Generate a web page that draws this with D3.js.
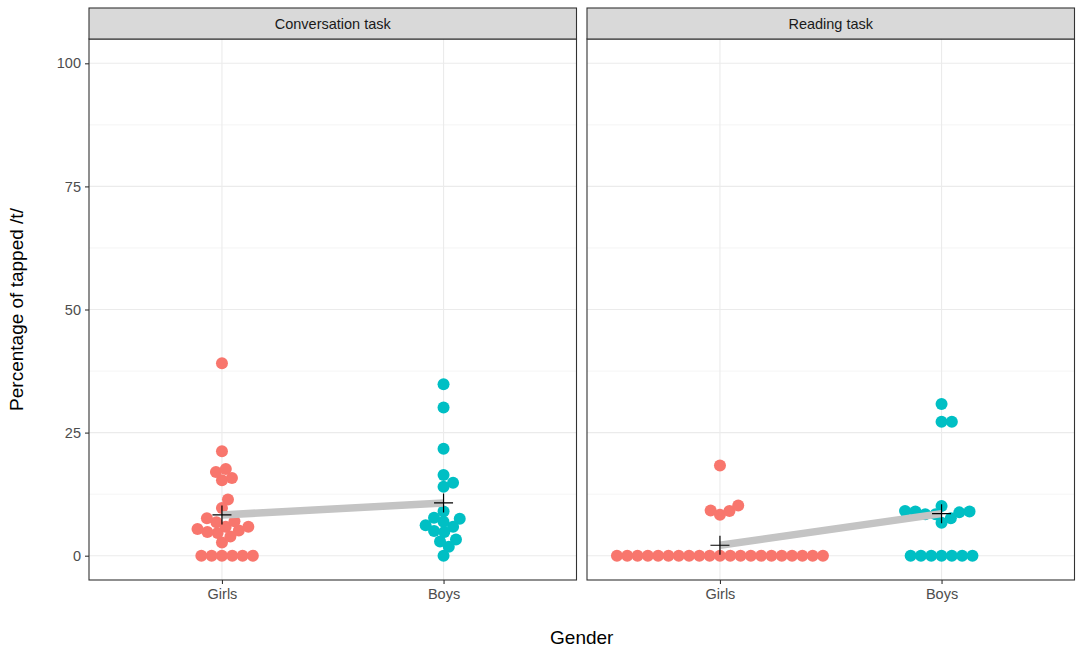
<!DOCTYPE html>
<html>
<head>
<meta charset="utf-8">
<script src="https://cdn.jsdelivr.net/npm/d3@7"></script>
<style>
  body { margin: 0; background: #fff; }
  text { font-family: "Liberation Sans", Arial, sans-serif; }
</style>
</head>
<body>
<div id="chart"></div>
<script>
// data
var tasks   = ["Conversation task", "Reading task"];
var genders = ["Girls", "Boys"];
var yTicks  = [0, 25, 50, 75, 100];
var yMinor  = [12.5, 37.5, 62.5, 87.5];

var convGirls = [39.1, 21.2, 17.6, 17.0, 15.8, 15.3, 11.4, 9.7, 7.6, 7.0, 6.8, 5.9, 5.9, 5.4, 5.1, 4.8, 4.6, 3.9, 2.7, 0, 0, 0, 0, 0, 0];
var convBoys  = [34.8, 30.1, 21.7, 16.4, 14.8, 14.0, 9.0, 7.5, 7.7, 6.9, 5.9, 6.2, 4.8, 5.0, 2.9, 3.3, 1.8, 0];
var readGirls = [18.3, 10.2, 9.2, 9.1, 8.3, 0, 0, 0, 0, 0, 0, 0, 0, 0, 0, 0, 0, 0, 0, 0, 0, 0, 0, 0, 0, 0];
var readBoys  = [30.8, 27.2, 27.2, 10.1, 9.1, 9.0, 9.0, 8.8, 8.4, 8.4, 7.6, 6.7, 0, 0, 0, 0, 0, 0, 0];

var series = [[convGirls, convBoys], [readGirls, readBoys]];
var colors = ["#F8766D", "#00BFC4"];

// layout
var width = 1076, height = 650;
var left = 89, panelW = 487.5, gap = 10.5;
var stripTop = 8, panelTop = 39, panelBot = 580;
var pad = 24.3;

var svg = d3.select("#chart").append("svg")
  .attr("width", width)
  .attr("height", height);

var y = d3.scaleLinear().domain([0, 100]).range([panelBot - pad, panelTop + pad]);
var x = d3.scalePoint().domain(genders).range([0, panelW]).padding(0.6);

var r = 6, spacing = 10.3;

// beeswarm offsets, points placed in ascending order
function swarm(vals) {
  var pts = vals.map(function(v) { return {v: v, py: y(v), dx: 0}; })
    .sort(function(a, b) { return a.v - b.v; });
  var placed = [];
  pts.forEach(function(p) {
    var cands = [0];
    placed.forEach(function(q) {
      var dy = Math.abs(p.py - q.py);
      if (dy < spacing) {
        var d = Math.sqrt(spacing * spacing - dy * dy);
        cands.push(q.dx + d, q.dx - d);
      }
    });
    cands.sort(function(a, b) {
      var da = Math.abs(a) - Math.abs(b);
      if (Math.abs(da) > 1e-9) return da;
      return b - a;
    });
    for (var i = 0; i < cands.length; i++) {
      var c = cands[i];
      var ok = placed.every(function(q) {
        var ddx = c - q.dx, ddy = p.py - q.py;
        return ddx * ddx + ddy * ddy >= spacing * spacing - 1e-6;
      });
      if (ok) { p.dx = c; break; }
    }
    placed.push(p);
  });
  return pts;
}

tasks.forEach(function(task, ti) {
  var px = left + ti * (panelW + gap);
  var g = svg.append("g").attr("transform", "translate(" + px + ",0)");

  // grid
  g.selectAll(".minor").data(yMinor).enter().append("line")
    .attr("x1", 0).attr("x2", panelW)
    .attr("y1", function(d) { return y(d); }).attr("y2", function(d) { return y(d); })
    .attr("stroke", "#ebebeb").attr("stroke-width", 0.55);
  g.selectAll(".major").data(yTicks).enter().append("line")
    .attr("x1", 0).attr("x2", panelW)
    .attr("y1", function(d) { return y(d); }).attr("y2", function(d) { return y(d); })
    .attr("stroke", "#ebebeb").attr("stroke-width", 1.1);
  g.selectAll(".vgrid").data(genders).enter().append("line")
    .attr("x1", function(d) { return x(d); }).attr("x2", function(d) { return x(d); })
    .attr("y1", panelTop).attr("y2", panelBot)
    .attr("stroke", "#ebebeb").attr("stroke-width", 1.1);

  // points
  genders.forEach(function(gen, gi) {
    var pts = swarm(series[ti][gi]);
    g.selectAll(".pt" + gi).data(pts).enter().append("circle")
      .attr("cx", function(d) { return x(gen) + d.dx; })
      .attr("cy", function(d) { return d.py; })
      .attr("r", r)
      .attr("fill", colors[gi]);
  });

  // mean line and crosses
  var means = genders.map(function(gen, gi) { return d3.mean(series[ti][gi]); });
  g.append("line")
    .attr("x1", x(genders[0])).attr("y1", y(means[0]))
    .attr("x2", x(genders[1])).attr("y2", y(means[1]))
    .attr("stroke", "#c4c4c4").attr("stroke-width", 7.5);
  genders.forEach(function(gen, gi) {
    var cx = x(gen), cy = y(means[gi]), a = 9.5;
    g.append("path")
      .attr("d", "M" + (cx - a) + "," + cy + "H" + (cx + a) + "M" + cx + "," + (cy - a) + "V" + (cy + a))
      .attr("stroke", "#000").attr("stroke-width", 1.2).attr("fill", "none");
  });

  // border
  g.append("rect")
    .attr("x", 0).attr("y", panelTop).attr("width", panelW).attr("height", panelBot - panelTop)
    .attr("fill", "none").attr("stroke", "#333").attr("stroke-width", 1.1);

  // strip
  g.append("rect")
    .attr("x", 0).attr("y", stripTop).attr("width", panelW).attr("height", panelTop - stripTop)
    .attr("fill", "#d9d9d9").attr("stroke", "#333").attr("stroke-width", 1.1);
  g.append("text")
    .attr("x", panelW / 2).attr("y", (stripTop + panelTop) / 2 + 5)
    .attr("text-anchor", "middle")
    .style("font-size", "14.5px").style("fill", "#1a1a1a")
    .text(task);

  // x axis
  var xa = g.append("g").attr("transform", "translate(0," + panelBot + ")")
    .call(d3.axisBottom(x).tickSize(4).tickPadding(5));
  xa.select(".domain").remove();
  xa.selectAll("line").attr("stroke", "#333").attr("stroke-width", 1.1);
  xa.selectAll("text").style("font-size", "14.5px").style("fill", "#4d4d4d")
    .style("font-family", "Liberation Sans, Arial, sans-serif");
});

// y axis
var ya = svg.append("g").attr("transform", "translate(" + left + ",0)")
  .call(d3.axisLeft(y).tickValues(yTicks).tickSize(4).tickPadding(4));
ya.select(".domain").remove();
ya.selectAll("line").attr("stroke", "#333").attr("stroke-width", 1.1);
ya.selectAll("text").style("font-size", "14.5px").style("fill", "#4d4d4d")
  .style("font-family", "Liberation Sans, Arial, sans-serif");

// titles
svg.append("text")
  .attr("transform", "translate(23," + ((panelTop + panelBot) / 2) + ") rotate(-90)")
  .attr("text-anchor", "middle")
  .style("font-size", "19px").style("fill", "#000")
  .text("Percentage of tapped /t/");
svg.append("text")
  .attr("x", left + panelW + gap / 2).attr("y", 644)
  .attr("text-anchor", "middle")
  .style("font-size", "19px").style("fill", "#000")
  .text("Gender");
</script>
</body>
</html>
